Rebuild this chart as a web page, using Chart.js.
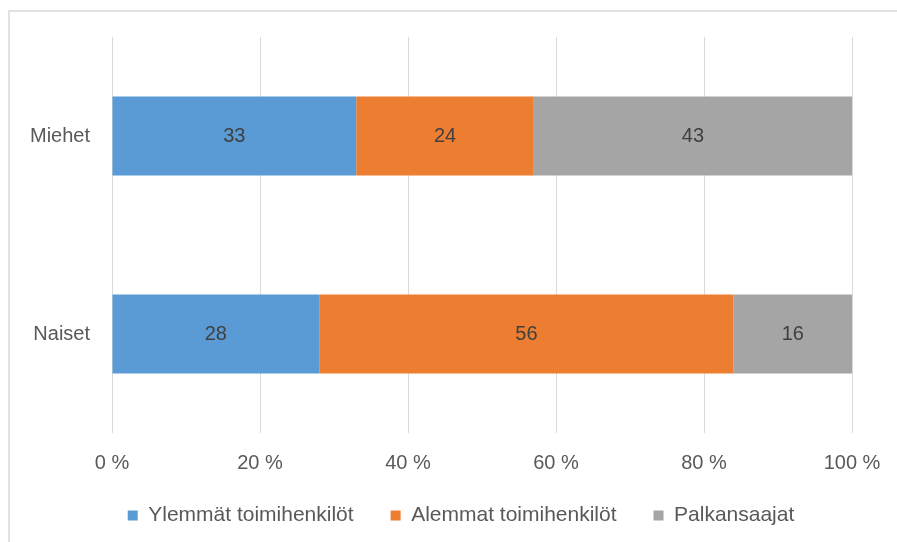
<!DOCTYPE html>
<html>
<head>
<meta charset="utf-8">
<script src="https://cdn.jsdelivr.net/npm/chart.js@4/dist/chart.umd.min.js"></script>
<style>
  html, body { margin: 0; padding: 0; background: #ffffff; }
  #wrap { width: 897px; height: 542px; }
</style>
</head>
<body>
<div id="wrap"><canvas id="chart" width="897" height="542"></canvas></div>
<script>
// Categories (groups) and the share of each occupational class, in percent
const categories = ['Miehet', 'Naiset'];
const seriesNames = ['Ylemmät toimihenkilöt', 'Alemmat toimihenkilöt', 'Palkansaajat'];
const ylemmat = [33, 28];
const alemmat = [24, 56];
const palkansaajat = [43, 16];
const tickValues = [0, 20, 40, 60, 80, 100];

const colors = ['#5B9BD5', '#ED7D31', '#A5A5A5'];
const FONT = "'Liberation Sans', Arial, sans-serif";

// Thin grey frame around the chart area
const framePlugin = {
  id: 'frame',
  beforeDraw(chart) {
    const ctx = chart.ctx;
    ctx.save();
    ctx.fillStyle = '#ffffff';
    ctx.fillRect(0, 0, chart.width, chart.height);
    ctx.strokeStyle = '#D9D9D9';
    ctx.lineWidth = 1.5;
    ctx.beginPath();
    ctx.moveTo(9, chart.height + 5);
    ctx.lineTo(9, 11);
    ctx.lineTo(chart.width + 5, 11);
    ctx.stroke();
    ctx.restore();
  }
};

// Nudge the legend row so it sits centred under the plot, close to the axis labels
const legendPlacement = {
  id: 'legendPlacement',
  afterLayout(chart) {
    const lg = chart.legend;
    if (!lg) return;
    const dx = 35, dy = -6;
    lg.left += dx; lg.right += dx;
    lg.top += dy; lg.bottom += dy;
  }
};

// Value labels centred inside each bar segment
const valueLabels = {
  id: 'valueLabels',
  afterDatasetsDraw(chart) {
    const ctx = chart.ctx;
    ctx.save();
    ctx.font = '20px ' + FONT;
    ctx.fillStyle = '#404040';
    ctx.textAlign = 'center';
    ctx.textBaseline = 'middle';
    chart.data.datasets.forEach((ds, di) => {
      const meta = chart.getDatasetMeta(di);
      meta.data.forEach((bar, i) => {
        const v = ds.data[i];
        const cx = (bar.x + bar.base) / 2;
        ctx.fillText(String(v), cx, bar.y);
      });
    });
    ctx.restore();
  }
};

new Chart(document.getElementById('chart'), {
  type: 'bar',
  data: {
    labels: categories,
    datasets: [
      { label: seriesNames[0], data: ylemmat, backgroundColor: colors[0] },
      { label: seriesNames[1], data: alemmat, backgroundColor: colors[1] },
      { label: seriesNames[2], data: palkansaajat, backgroundColor: colors[2] }
    ]
  },
  options: {
    indexAxis: 'y',
    responsive: false,
    animation: false,
    devicePixelRatio: 1,
    categoryPercentage: 1.0,
    barPercentage: 0.4,
    layout: { padding: { left: 0, right: 45, top: 37, bottom: 0 } },
    scales: {
      x: {
        stacked: true,
        min: 0,
        max: 100,
        afterBuildTicks(scale) {
          scale.ticks = tickValues.map(v => ({ value: v }));
        },
        afterFit(scale) {
          scale.height = 41;
          scale.paddingLeft = 0;
          scale.paddingRight = 0;
        },
        grid: { color: '#D9D9D9', lineWidth: 1, drawTicks: false },
        border: { display: false },
        ticks: {
          padding: 18,
          color: '#595959',
          font: { family: FONT, size: 20 },
          callback: v => v + ' %'
        }
      },
      y: {
        stacked: true,
        afterFit(scale) { scale.width = 112; },
        grid: { display: false, drawTicks: false },
        border: { display: false },
        ticks: {
          padding: 22,
          color: '#595959',
          font: { family: FONT, size: 20 }
        }
      }
    },
    plugins: {
      legend: {
        position: 'bottom',
        labels: {
          boxWidth: 10,
          boxHeight: 10,
          padding: 37,
          color: '#595959',
          font: { family: FONT, size: 21 }
        }
      },
      tooltip: { enabled: false }
    }
  },
  plugins: [framePlugin, legendPlacement, valueLabels]
});
</script>
</body>
</html>
